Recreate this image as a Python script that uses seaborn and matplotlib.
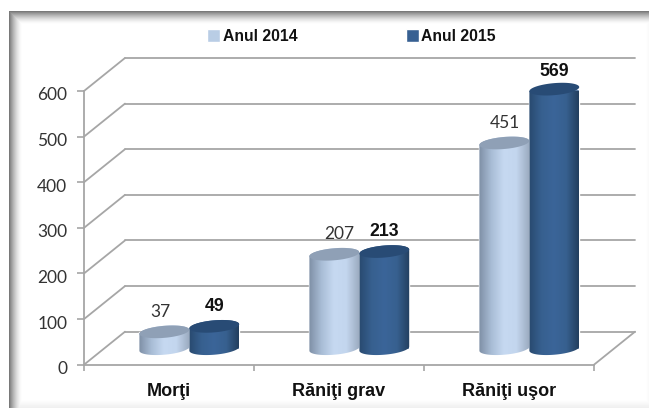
import numpy as np
import pandas as pd
import matplotlib
import matplotlib.pyplot as plt
from matplotlib.path import Path
from matplotlib.patches import PathPatch
from matplotlib.transforms import Affine2D, IdentityTransform, ScaledTranslation
from matplotlib.colors import LinearSegmentedColormap
import seaborn as sns

matplotlib.use("Agg")

categories = ["Morţi", "Răniţi grav", "Răniţi uşor"]
years = ["Anul 2014", "Anul 2015"]
values_2014 = [37, 207, 451]
values_2015 = [49, 213, 569]
y_ticks = [0, 100, 200, 300, 400, 500, 600]

# Colors and style
c_2014 = "#b9cde5"
c_2015 = "#376092"
c_grid = "#a6a6a6"
c_text = "#333333"
bold_font = ["Liberation Sans", "DejaVu Sans"]
W, H = 649, 408

# 3d look, in data units (1 category = 170 px, 100 = 45.6 px)
depth_x = 41 / 170
depth_y = 33 / 0.456
base_x = 20.3 / 170
base_y = 16.0 / 0.456
tilt = np.radians(5)
semi_minor = 6.0

ramps = {
    "Anul 2014": LinearSegmentedColormap.from_list("l", ["#7f90a6", "#a9bdd6", "#c6d9f1", "#c3d6ee", "#9dadc2"]),
    "Anul 2015": LinearSegmentedColormap.from_list("d", ["#294a70", "#37608f", "#3b6599", "#37608f", "#233f5f"]),
}
top_colors = {"Anul 2014": "#8fa0b6", "Anul 2015": "#284b75"}
# small shifts of the labels, px
nudge_2014 = [-4, 5, 1]
nudge_2015 = [0, 0, -3]

sns.set_style("white")
plt.rcParams["font.family"] = ["Lato", "DejaVu Sans"]

df = pd.DataFrame({
    "category": categories * 2,
    "year": [years[0]] * 3 + [years[1]] * 3,
    "value": values_2014 + values_2015,
})

fig = plt.figure(figsize=(W / 100, H / 100), dpi=100, facecolor="white")

# Frame with the inner shadow
bg = fig.add_axes([0, 0, 1, 1], zorder=-1)
xx, yy = np.meshgrid(np.arange(W), np.arange(H))
shade = np.maximum.reduce([
    0.52 * np.clip(1 - (yy - 11) / 13, 0, 1) ** 1.6,
    0.52 * np.clip(1 - (xx - 9) / 13, 0, 1) ** 1.6,
    0.07 * np.clip(1 - (408 - yy) / 9, 0, 1),
    0.03 * np.clip(1 - (649 - xx) / 4, 0, 1),
])
shade[(yy < 11) | (xx < 9)] = 0
bg.imshow(1 - shade, cmap="gray", vmin=0, vmax=1, aspect="auto", interpolation="nearest")
bg.axis("off")

ax = fig.add_axes([84 / W, 1 - 364.7 / H, 510 / W, 273.7 / H])
ax.patch.set_alpha(0)
sns.barplot(data=df, x="category", y="value", hue="year", order=categories, hue_order=years,
            palette=[c_2014, c_2015], width=100 / 170, gap=0, dodge=True, ax=ax, zorder=3,
            errorbar=None, saturation=1)
ax.set_xlim(-0.5, 2.5)
ax.set_ylim(0, 600)
ax.set_xlabel("")
ax.set_ylabel("")

# Walls: diagonals and back lines
for v in y_ticks:
    if v > 0:
        ax.plot([-0.5, -0.5 + depth_x], [v, v + depth_y], color=c_grid, lw=1.3, clip_on=False, zorder=1)
    ax.plot([-0.5 + depth_x, 2.5 + depth_x], [v + depth_y] * 2, color=c_grid, lw=1.3, clip_on=False, zorder=1)
ax.plot([-0.5, -0.5 + depth_x], [0, depth_y], color=c_grid, lw=1.3, clip_on=False, zorder=1)
ax.plot([2.5, 2.5 + depth_x], [0, depth_y], color=c_grid, lw=1.3, clip_on=False, zorder=1)

sns.despine(ax=ax)
for side in ["left", "bottom"]:
    ax.spines[side].set_color(c_grid)
    ax.spines[side].set_linewidth(1.3)
ax.set_yticks(y_ticks)
ax.tick_params(axis="y", length=5, width=1.2, color=c_grid, left=True, labelsize=12.5,
               labelcolor=c_text, pad=7)
# tick labels sit a little under their ticks in the original
for t in ax.get_yticklabels():
    t.set_transform(t.get_transform() + ScaledTranslation(0, -3 / 100, fig.dpi_scale_trans))
ax.set_xticks([-0.5, 0.5, 1.5, 2.5], minor=True)
ax.tick_params(axis="x", which="minor", length=4, width=1.2, color=c_grid, bottom=True)
ax.tick_params(axis="x", which="major", length=0, labelsize=13, pad=13)
for t in ax.get_xticklabels():
    t.set_fontweight("bold")
    t.set_family(bold_font)
    t.set_color("#111111")

fig.canvas.draw()
to_px = ax.transData


def ellipse_pts(cx, cy, a, b, t):
    x = cx + a * np.cos(t) * np.cos(tilt) - b * np.sin(t) * np.sin(tilt)
    y = cy + a * np.cos(t) * np.sin(tilt) + b * np.sin(t) * np.cos(tilt)
    return np.column_stack([x, y])


# Bars become cylinders, read back from what seaborn drew
for year, container in zip(years, ax.containers):
    for i, p in enumerate(container):
        p.set_transform(Affine2D().translate(base_x, base_y) + ax.transData)
        p.set_clip_on(False)
        x0 = p.get_x() + base_x
        x1 = x0 + p.get_width()
        y0 = base_y
        y1 = base_y + p.get_height()
        (px0, py0), (px1, py1) = to_px.transform([(x0, y0), (x1, y1)])
        cx = (px0 + px1) / 2
        a = (px1 - px0) / 2
        low = ellipse_pts(cx, py0, a, semi_minor, np.linspace(np.pi, 2 * np.pi, 60))
        up = ellipse_pts(cx, py1, a, semi_minor, np.linspace(0, np.pi, 60))
        body = Path(np.vstack([low, up, low[:1]]), closed=True)
        im = ax.imshow(np.linspace(0, 1, 100).reshape(1, -1), cmap=ramps[year], aspect="auto",
                       extent=[x0, x1, y0 - 20, y1 + 20], zorder=4 + i, clip_on=True)
        im.set_clip_path(body, IdentityTransform())
        top = PathPatch(Path(ellipse_pts(cx, py1, a, semi_minor, np.linspace(0, 2 * np.pi, 100)), closed=True),
                        facecolor=top_colors[year], edgecolor="none", transform=IdentityTransform(),
                        zorder=4.5 + i, clip_on=False)
        ax.add_patch(top)
        # value labels
        if year == years[0]:
            ax.annotate(str(int(p.get_height())), (x0 + p.get_width() / 2, y1),
                        xytext=(nudge_2014[i] * 0.72, 14.5), textcoords="offset points",
                        ha="center", va="center", fontsize=12.5, annotation_clip=False,
                        color=c_text, zorder=10)
        else:
            ax.annotate(str(int(p.get_height())), (x0 + p.get_width() / 2, y1),
                        xytext=(0, 14.5 + nudge_2015[i] * 0.72), textcoords="offset points",
                        ha="center", va="center", fontsize=12.8, annotation_clip=False,
                        fontweight="bold", family=bold_font, color="#111111", zorder=10)

ax.set_xlim(-0.5, 2.5)
ax.set_ylim(0, 600)

handles, labels = ax.get_legend_handles_labels()
leg = ax.legend(handles, labels, ncol=2, frameon=False, loc="center left",
                bbox_to_anchor=(207 / W, 1 - 36.5 / H), bbox_transform=fig.transFigure,
                handlelength=0.85, handleheight=0.85, handletextpad=0.15, columnspacing=6.9,
                borderpad=0, borderaxespad=0,
                prop={"weight": "bold", "size": 11.3, "family": bold_font})
for t in leg.get_texts():
    t.set_color("#111111")

fig.savefig("out.png", dpi=100)
